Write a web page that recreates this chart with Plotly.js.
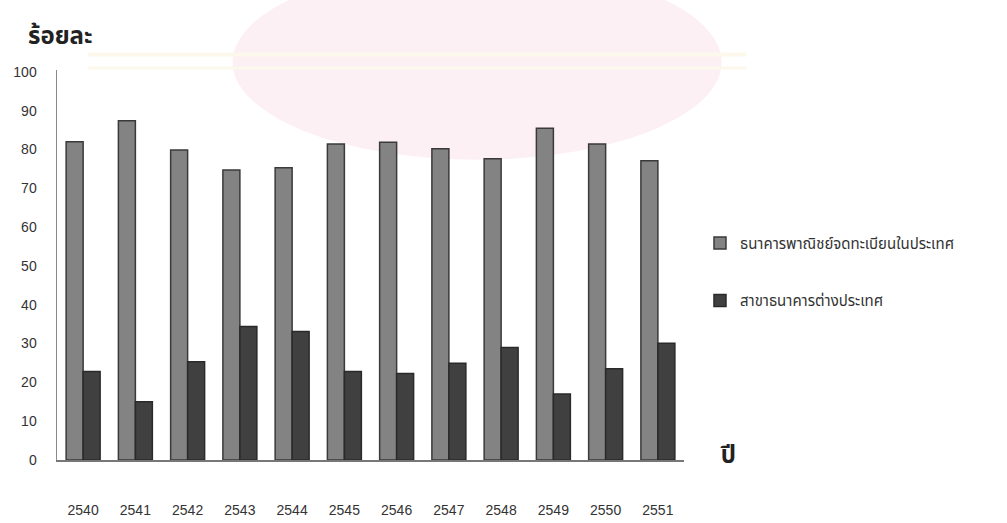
<!DOCTYPE html>
<html>
<head>
<meta charset="utf-8">
<script src="https://cdn.plot.ly/plotly-3.0.1.min.js"></script>
<style>
  html, body { margin: 0; padding: 0; background: #ffffff; }
  #chart { width: 1007px; height: 523px; }
</style>
</head>
<body>
<div id="chart"></div>
<script>
// Years (Buddhist era) on the x axis
const years = ['2540', '2541', '2542', '2543', '2544', '2545', '2546', '2547', '2548', '2549', '2550', '2551'];

// Share (%) held by locally registered commercial banks
const domesticBanks = [82.0, 87.4, 79.9, 74.7, 75.3, 81.4, 81.9, 80.2, 77.6, 85.5, 81.4, 77.1];

// Share (%) held by branches of foreign banks
const foreignBranches = [22.8, 15.0, 25.3, 34.4, 33.1, 22.8, 22.3, 24.9, 29.0, 17.0, 23.5, 30.1];

// Axis ticks
const yTicks = [0, 10, 20, 30, 40, 50, 60, 70, 80, 90, 100];

const seriesNames = ['ธนาคารพาณิชย์จดทะเบียนในประเทศ', 'สาขาธนาคารต่างประเทศ'];

const thaiFont = '"Noto Sans Thai", "Noto Sans", "DejaVu Sans", "Liberation Sans", sans-serif';
const numFont = '"Liberation Sans Narrow", "Liberation Sans", sans-serif';

const traces = [
  {
    type: 'bar',
    name: seriesNames[0],
    x: years,
    y: domesticBanks,
    legendgroup: 'a',
    marker: { color: '#838383', line: { color: '#3a3a3a', width: 1.5 } },
    hoverinfo: 'x+y'
  },
  {
    type: 'bar',
    name: seriesNames[1],
    x: years,
    y: foreignBranches,
    legendgroup: 'b',
    marker: { color: '#404040', line: { color: '#2a2a2a', width: 1.5 } },
    hoverinfo: 'x+y'
  }
];

const layout = {
  width: 1007,
  height: 523,
  margin: { l: 57, r: 323, t: 70, b: 63 },
  paper_bgcolor: '#ffffff',
  plot_bgcolor: 'rgba(0,0,0,0)',
  barmode: 'group',
  bargap: 0.35,
  bargroupgap: 0,
  font: { family: thaiFont, color: '#333333' },
  xaxis: {
    type: 'category',
    tickvals: years,
    ticktext: years,
    showline: true,
    linecolor: '#777777',
    linewidth: 1.5,
    showgrid: false,
    zeroline: false,
    ticks: 'outside',
    ticklen: 37,
    tickcolor: 'rgba(0,0,0,0)',
    tickfont: { family: numFont, size: 14, color: '#333333' },
    fixedrange: true
  },
  yaxis: {
    range: [0, 100.5],
    tickvals: yTicks,
    showline: true,
    linecolor: '#8a8a8a',
    linewidth: 1.5,
    showgrid: false,
    zeroline: false,
    ticks: 'outside',
    ticklen: 16,
    tickcolor: 'rgba(0,0,0,0)',
    tickfont: { family: numFont, size: 14, color: '#333333' },
    fixedrange: true
  },
  showlegend: true,
  legend: {
    x: 1.0255,
    xanchor: 'left',
    y: 0.598,
    yanchor: 'top',
    traceorder: 'grouped',
    tracegroupgap: 35,
    font: { family: thaiFont, size: 15, color: '#333333' },
    bgcolor: 'rgba(0,0,0,0)'
  },
  shapes: [
    // pale pink emblem backdrop behind the top of the chart
    { type: 'circle', xref: 'paper', yref: 'paper', layer: 'below',
      x0: 0.28, x1: 1.06, y0: 0.77, y1: 1.27,
      fillcolor: '#fcf0f5', line: { width: 0 } },
    { type: 'line', xref: 'paper', yref: 'paper', layer: 'below',
      x0: 0.05, x1: 1.1, y0: 1.04, y1: 1.04,
      line: { color: '#fcf8ec', width: 4 } },
    { type: 'line', xref: 'paper', yref: 'paper', layer: 'below',
      x0: 0.05, x1: 1.1, y0: 1.005, y1: 1.005,
      line: { color: '#fcf8ec', width: 3 } }
  ],
  annotations: [
    { text: 'ร้อยละ', xref: 'paper', yref: 'paper', x: -0.049, y: 1.085,
      xanchor: 'left', yanchor: 'middle', showarrow: false,
      font: { family: thaiFont, size: 24, color: '#222222', weight: 'bold' } },
    { text: 'ปี', xref: 'paper', yref: 'paper', x: 1.054, y: 0.01,
      xanchor: 'left', yanchor: 'middle', showarrow: false,
      font: { family: thaiFont, size: 24, color: '#222222', weight: 'bold' } }
  ]
};

Plotly.newPlot('chart', traces, layout, { displayModeBar: false, staticPlot: true });
</script>
</body>
</html>
